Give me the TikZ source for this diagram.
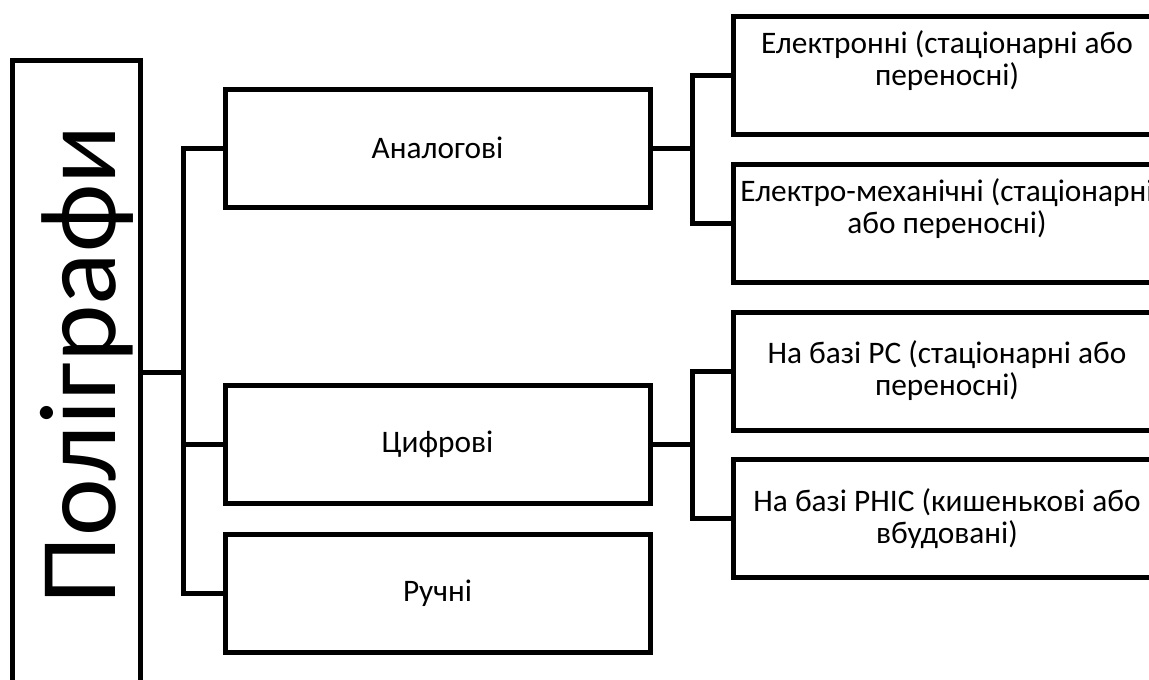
\documentclass[tikz,border=0pt]{standalone}
\usepackage{fontspec}
\setmainfont{Carlito}
\usetikzlibrary{positioning}

\begin{document}
\begin{tikzpicture}[
x=0.75pt, y=-0.75pt,
  box/.style = {rectangle, draw, line width=3.75pt,% boxes of the tree
                minimum width=318.75pt, minimum height=88.5pt,
                align=center, inner sep=0pt,
                font=\fontsize{23.5}{24}\selectfont},
  sub/.style = {box, minimum width=321pt},% boxes of the right column
 link/.style = {line width=3.75pt},
                    ]
\useasboundingbox (0,0) rectangle (1149,679);
\node[draw, line width=3.75pt, minimum width=96pt, minimum height=468pt] (poly) at (76,372) {};
\node[rotate=90, anchor=base, font=\fontsize{82}{86}\selectfont] (polytitle) at (115,365) {Поліграфи};
% middle column
\node[box] (analog) at (437.5,148) {Аналогові};
\node[box] (digital) at (437.5,444) {Цифрові};
\node[box] (manual) at (437.5,593) {Ручні};
% right column
\node[sub] (electro) at (947,75) {Електронні (стаціонарні або\\переносні)\\[-6pt]\strut};
\node[sub] (mech) at (947,223) {Електро-механічні (стаціонарні\\або переносні)\\[-6pt]\strut};
\node[sub] (pc) at (947,371) {На базі PC (стаціонарні або\\переносні)};
\node[sub] (phic) at (947,518.5) {На базі PHIC (кишенькові або\\вбудовані)};
% connectors
\coordinate (busA) at (183,0);
\coordinate (busB) at (692,0);
\draw[link] (poly.east) -- (poly.east -| busA);
\draw[link] (analog.west) -| (busA |- manual.west) -- (manual.west);
\draw[link] (digital.west) -- (digital.west -| busA);
\draw[link] (analog.east) -- (analog.east -| busB);
\draw[link] (electro.west) -| (busB |- mech.west) -- (mech.west);
\draw[link] (digital.east) -- (digital.east -| busB);
\draw[link] (pc.west) -| (busB |- phic.west) -- (phic.west);
\end{tikzpicture}
\end{document}
